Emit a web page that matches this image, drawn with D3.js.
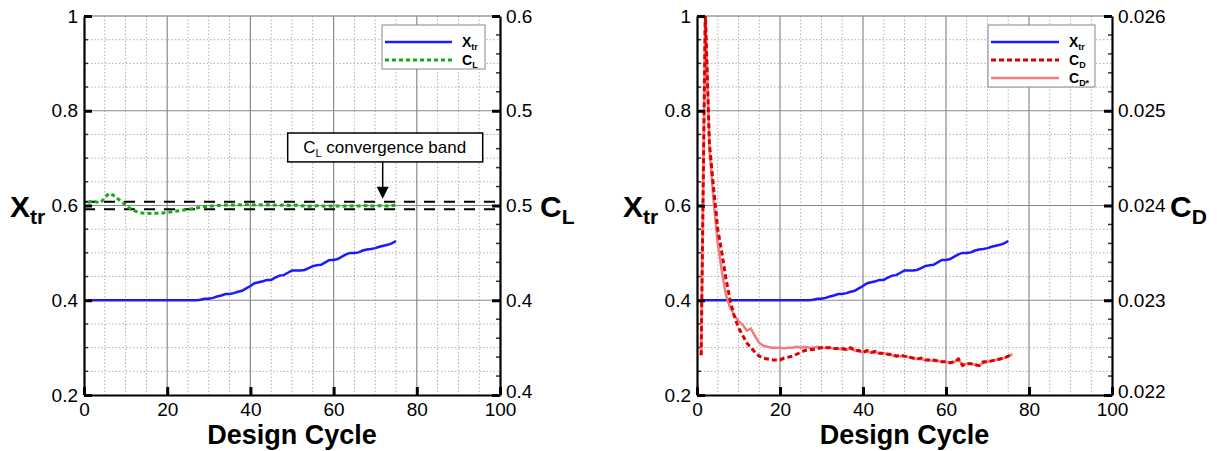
<!DOCTYPE html>
<html>
<head>
<meta charset="utf-8">
<script src="https://cdn.jsdelivr.net/npm/d3@7"></script>
<style>
body { margin: 0; background: #fff; }
svg { display: block; }
text { font-family: "Liberation Sans", Arial, Helvetica, sans-serif; }
</style>
</head>
<body>
<svg id="chart" width="1217" height="451"></svg>
<script>
// ticks and labels
const xTicks = [0, 20, 40, 60, 80, 100]
const xtrTicks = [0.2, 0.4, 0.6, 0.8, 1]
const xtrTickLabels = ["0.2", "0.4", "0.6", "0.8", "1"]
const clTicks = [0.4, 0.45, 0.5, 0.55, 0.6]
const clTickLabels = ["0.4", "0.4", "0.5", "0.5", "0.6"]
const cdTicks = [0.022, 0.023, 0.024, 0.025, 0.026]
const cdTickLabels = ["0.022", "0.023", "0.024", "0.025", "0.026"]

// series, one value per design cycle starting at cycle 1
const xtr = [
  0.4, 0.4, 0.4, 0.4, 0.4, 0.4, 0.4, 0.4, 0.4, 0.4,
  0.4, 0.4, 0.4, 0.4, 0.4, 0.4, 0.4, 0.4, 0.4, 0.4,
  0.4, 0.4, 0.4, 0.4, 0.4, 0.4, 0.4,
  0.401, 0.403, 0.403, 0.405, 0.408, 0.41, 0.413, 0.413, 0.415, 0.418,
  0.42, 0.425, 0.43, 0.436, 0.438, 0.44, 0.443, 0.443, 0.448, 0.452,
  0.453, 0.458, 0.463, 0.463, 0.463, 0.464, 0.468, 0.472, 0.474, 0.475,
  0.48, 0.485, 0.485, 0.487, 0.492, 0.497, 0.5, 0.5, 0.501, 0.505,
  0.507, 0.508, 0.51, 0.513, 0.515, 0.517, 0.52, 0.525
]
const cl = [
  0.5015, 0.5025, 0.5018, 0.5015, 0.5040, 0.5064, 0.5055, 0.5038, 0.5020, 0.5003,
  0.4985, 0.4973, 0.4965, 0.4960, 0.4959, 0.4958, 0.4959, 0.4959, 0.4961, 0.4964,
  0.4967, 0.4970, 0.4973, 0.4976, 0.4979, 0.4983, 0.4987, 0.4990, 0.4993, 0.4995,
  0.4998, 0.5000, 0.5001, 0.5002, 0.5003, 0.5002, 0.5004, 0.5003, 0.5004, 0.5005,
  0.5003, 0.5004, 0.5002, 0.5003, 0.5004, 0.5002, 0.5001, 0.5002, 0.5001, 0.5000,
  0.5002, 0.4999, 0.4998, 0.4996, 0.4997, 0.4999, 0.4997, 0.4996, 0.4997, 0.4997,
  0.4998, 0.4996, 0.4997, 0.4998, 0.4997, 0.4998, 0.4998, 0.4999, 0.4997, 0.4998,
  0.4999, 0.4998, 0.4997, 0.4999, 0.5003
]
const clBand = [0.498, 0.502]
const cd = [
  0.02242, 0.02605, 0.02465, 0.02418, 0.02375, 0.02350, 0.02322, 0.02300, 0.02283, 0.02271,
  0.02263, 0.02255, 0.02250, 0.02245, 0.02241, 0.02239, 0.02238, 0.02237, 0.02237, 0.02237,
  0.02239, 0.02240, 0.02241, 0.02243, 0.02245, 0.02247, 0.02248, 0.02248, 0.02249, 0.02250,
  0.02250, 0.02250, 0.02249, 0.02249, 0.02249, 0.02248, 0.02250, 0.02247, 0.02247, 0.02245,
  0.02247, 0.02245, 0.02246, 0.02244, 0.02244, 0.02243, 0.02243, 0.02241, 0.02242, 0.02241,
  0.02240, 0.02239, 0.02238, 0.02239, 0.02237, 0.02237, 0.02237, 0.02236, 0.02235, 0.02235,
  0.02234, 0.02235, 0.02238, 0.02231, 0.02233, 0.02233, 0.02232, 0.02231, 0.02235, 0.02235,
  0.02236, 0.02237, 0.02238, 0.02239, 0.02241, 0.02243
]
const cdStar = [
  0.02242, 0.02605, 0.02460, 0.02405, 0.02360, 0.02330, 0.02305, 0.02292, 0.02284, 0.02278,
  0.02274, 0.02268, 0.02270, 0.02262, 0.02255, 0.02252, 0.02251, 0.02250, 0.02250, 0.02250,
  0.02249, 0.02250, 0.02250, 0.02251, 0.02250, 0.02251, 0.02250, 0.02250, 0.02251, 0.02250,
  0.02250, 0.02250, 0.02249, 0.02249, 0.02248, 0.02248, 0.02249, 0.02247, 0.02246, 0.02245,
  0.02246, 0.02245, 0.02245, 0.02244, 0.02244, 0.02243, 0.02242, 0.02241, 0.02241, 0.02241,
  0.02240, 0.02239, 0.02238, 0.02238, 0.02237, 0.02237, 0.02236, 0.02236, 0.02235, 0.02235,
  0.02234, 0.02235, 0.02237, 0.02232, 0.02233, 0.02233, 0.02232, 0.02231, 0.02234, 0.02235,
  0.02236, 0.02237, 0.02238, 0.02239, 0.02241, 0.02243
]

const BLUE = "#1a1aff"
const GREEN = "#16aa16"
const RED = "#dd0000"
const PINK = "#ef7d7d"

const svg = d3.select("#chart")
const plotTop = 16, plotBottom = 395

function subText(g, x, y, main, sub, size, subSize, anchor) {
  const t = g.append("text")
      .attr("x", x).attr("y", y)
      .attr("font-weight", "bold")
      .attr("font-size", size)
      .attr("text-anchor", anchor || "start")
  t.append("tspan").text(main)
  t.append("tspan").attr("font-size", subSize).attr("dy", size * 0.22).text(sub)
  return t
}

function panel(opt) {
  const g = svg.append("g")
  const x = d3.scaleLinear([0, 100], [opt.left, opt.right])
  const y = d3.scaleLinear([0.2, 1], [plotBottom, plotTop])
  const y2 = d3.scaleLinear(opt.y2Domain, [plotBottom, plotTop])

  // minor grid (dotted)
  const minorX = d3.range(5, 100, 5).filter(v => v % 20 !== 0)
  const minorY = d3.range(0.25, 1, 0.05).filter(v => Math.abs(v * 5 - Math.round(v * 5)) > 1e-6)
  const grid = g.append("g")
  grid.selectAll(".mx").data(minorX).join("line")
      .attr("x1", d => x(d)).attr("x2", d => x(d))
      .attr("y1", plotTop).attr("y2", plotBottom)
      .attr("stroke", "#b0b0b0").attr("stroke-width", 1).attr("stroke-dasharray", "1.5,2")
  grid.selectAll(".my").data(minorY).join("line")
      .attr("x1", opt.left).attr("x2", opt.right)
      .attr("y1", d => y(d)).attr("y2", d => y(d))
      .attr("stroke", "#b0b0b0").attr("stroke-width", 1).attr("stroke-dasharray", "1.5,2")
  // major grid
  grid.selectAll(".Mx").data(xTicks.slice(1, -1)).join("line")
      .attr("x1", d => x(d)).attr("x2", d => x(d))
      .attr("y1", plotTop).attr("y2", plotBottom)
      .attr("stroke", "#8a8a8a").attr("stroke-width", 1.2)
  grid.selectAll(".My").data(xtrTicks.slice(1, -1)).join("line")
      .attr("x1", opt.left).attr("x2", opt.right)
      .attr("y1", d => y(d)).attr("y2", d => y(d))
      .attr("stroke", "#8a8a8a").attr("stroke-width", 1.2)

  // top frame
  g.append("line")
      .attr("x1", opt.left).attr("x2", opt.right).attr("y1", plotTop).attr("y2", plotTop)
      .attr("stroke", "#999").attr("stroke-width", 1.5)

  // minor ticks
  g.append("g").selectAll("line").data(minorY).join("line")
      .attr("x1", opt.left).attr("x2", opt.left + 4)
      .attr("y1", d => y(d)).attr("y2", d => y(d))
      .attr("stroke", "#333").attr("stroke-width", 1.5)
  g.append("g").selectAll("line").data(opt.y2Minor).join("line")
      .attr("x1", opt.right).attr("x2", opt.right - 4)
      .attr("y1", d => y2(d)).attr("y2", d => y2(d))
      .attr("stroke", "#333").attr("stroke-width", 1.5)

  const clipId = "clip" + opt.left
  g.append("clipPath").attr("id", clipId).append("rect")
      .attr("x", opt.left).attr("y", plotTop)
      .attr("width", opt.right - opt.left).attr("height", plotBottom - plotTop)
  const plot = g.append("g").attr("clip-path", `url(#${clipId})`)

  const lineL = d3.line().x((d, i) => x(i + 1)).y(d => y(d))
  const lineR = d3.line().x((d, i) => x(i + 1)).y(d => y2(d))

  opt.draw(plot, x, y, y2, lineL, lineR)

  // axes
  function styleAxis(a) {
    a.attr("font-size", null).attr("font-family", null)
    a.select(".domain").attr("stroke", "#000").attr("stroke-width", 2.2)
    a.selectAll(".tick line").attr("stroke", "#000").attr("stroke-width", 3)
    a.selectAll(".tick text").attr("font-size", 19).attr("fill", "#000")
  }
  g.append("g").attr("transform", `translate(${opt.left},0)`)
      .call(d3.axisLeft(y).tickValues(xtrTicks).tickFormat((d, i) => xtrTickLabels[i])
        .tickSizeInner(-8).tickSizeOuter(0).tickPadding(6))
      .call(styleAxis)
  const rAxis = g.append("g").attr("transform", `translate(${opt.right},0)`)
      .call(d3.axisRight(y2).tickValues(opt.y2Ticks).tickFormat((d, i) => opt.y2Labels[i])
        .tickSizeInner(-8).tickSizeOuter(0).tickPadding(6))
      .call(styleAxis)
  // bottom corner label sits a little above the x tick label
  rAxis.selectAll(".tick text").filter((d, i) => i === 0).attr("dy", "0.12em")
  g.append("g").attr("transform", `translate(0,${plotBottom})`)
      .call(d3.axisBottom(x).tickValues(xTicks).tickFormat(d3.format("d"))
        .tickSizeInner(-8).tickSizeOuter(0).tickPadding(8))
      .call(styleAxis)

  // titles
  g.append("text")
      .attr("x", (opt.left + opt.right) / 2).attr("y", 444)
      .attr("text-anchor", "middle").attr("font-weight", "bold").attr("font-size", 27)
      .text("Design Cycle")
  subText(g, opt.left - 74, 217, "X", "tr", 30, 21)
  subText(g, opt.right + opt.y2TitleGap, 217, "C", opt.y2Sub, 30, 21)

  // legend
  const lg = g.append("g")
  lg.append("rect")
      .attr("x", opt.legend.x).attr("y", 25)
      .attr("width", opt.legend.w).attr("height", opt.legend.items.length * 18 + 8)
      .attr("fill", "#fff").attr("stroke", "#888").attr("stroke-width", 1)
  opt.legend.items.forEach((it, i) => {
    const ly = 42 + i * 18
    lg.append("line")
        .attr("x1", opt.legend.x + 3).attr("x2", opt.legend.x + opt.legend.lineLen)
        .attr("y1", ly).attr("y2", ly)
        .attr("stroke", it.color).attr("stroke-width", it.width)
        .attr("stroke-dasharray", it.dash)
    subText(lg, opt.legend.x + opt.legend.lineLen + 10, ly + 5, it.main, it.sub, 14, 9)
  })
  return {g, x, y, y2}
}

// left panel: Xtr and CL
const left = panel({
  left: 84, right: 500,
  y2Domain: [0.4, 0.6], y2Ticks: clTicks, y2Labels: clTickLabels,
  y2Minor: d3.range(0.41, 0.6, 0.01).filter(v => Math.abs(v * 20 - Math.round(v * 20)) > 1e-6),
  y2Sub: "L", y2TitleGap: 40,
  legend: {x: 382, w: 103, lineLen: 70, items: [
    {main: "X", sub: "tr", color: BLUE, width: 2.5, dash: null},
    {main: "C", sub: "L", color: GREEN, width: 3, dash: "4,3"}
  ]},
  draw(plot, x, y, y2, lineL, lineR) {
    plot.selectAll(".band").data(clBand).join("line")
        .attr("x1", x(0)).attr("x2", x(100))
        .attr("y1", d => y2(d)).attr("y2", d => y2(d))
        .attr("stroke", "#000").attr("stroke-width", 2).attr("stroke-dasharray", "11,9")
    plot.append("path").datum(xtr).attr("d", lineL)
        .attr("fill", "none").attr("stroke", BLUE).attr("stroke-width", 2.5)
    plot.append("path").datum(cl).attr("d", lineR)
        .attr("fill", "none").attr("stroke", GREEN).attr("stroke-width", 3)
        .attr("stroke-dasharray", "4,3")
  }
})

// convergence band annotation
{
  const {g, x, y, y2} = left
  const ax = x(71.8)
  const boxTop = y(0.753), boxBot = y(0.692)
  g.append("rect")
      .attr("x", ax - 95).attr("y", boxTop).attr("width", 195).attr("height", boxBot - boxTop)
      .attr("fill", "#fff").attr("stroke", "#000").attr("stroke-width", 1.5)
  const t = g.append("text")
      .attr("x", ax + 2).attr("y", boxBot - 9)
      .attr("text-anchor", "middle").attr("font-size", 17)
  t.append("tspan").text("C")
  t.append("tspan").attr("font-size", 11).attr("dy", 4).text("L")
  t.append("tspan").attr("dy", -4).text(" convergence band")
  const tip = y2(clBand[1]) - 3
  g.append("line")
      .attr("x1", ax).attr("x2", ax).attr("y1", boxBot).attr("y2", tip - 10)
      .attr("stroke", "#000").attr("stroke-width", 1.5)
  g.append("path")
      .attr("d", `M${ax - 6},${tip - 12}L${ax + 6},${tip - 12}L${ax},${tip}Z`)
      .attr("fill", "#000")
}

// right panel: Xtr and CD
panel({
  left: 697, right: 1112,
  y2Domain: [0.022, 0.026], y2Ticks: cdTicks, y2Labels: cdTickLabels,
  y2Minor: d3.range(0.0222, 0.026, 0.0002).filter(v => Math.abs(v * 1000 - Math.round(v * 1000)) > 1e-6),
  y2Sub: "D", y2TitleGap: 58,
  legend: {x: 988, w: 107, lineLen: 71, items: [
    {main: "X", sub: "tr", color: BLUE, width: 2.5, dash: null},
    {main: "C", sub: "D", color: RED, width: 3, dash: "5,3"},
    {main: "C", sub: "D*", color: PINK, width: 2.5, dash: null}
  ]},
  draw(plot, x, y, y2, lineL, lineR) {
    plot.append("path").datum(xtr).attr("d", lineL)
        .attr("fill", "none").attr("stroke", BLUE).attr("stroke-width", 2.5)
    plot.append("path").datum(cdStar).attr("d", lineR)
        .attr("fill", "none").attr("stroke", PINK).attr("stroke-width", 2.5)
    plot.append("path").datum(cd).attr("d", lineR)
        .attr("fill", "none").attr("stroke", RED).attr("stroke-width", 3)
        .attr("stroke-dasharray", "5,3")
  }
})
</script>
</body>
</html>
